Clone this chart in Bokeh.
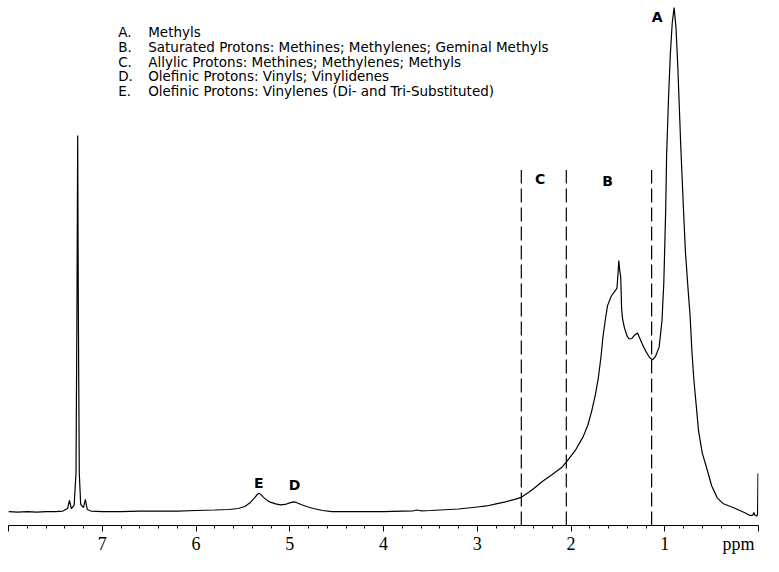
from bokeh.plotting import figure
from bokeh.models import FixedTicker, Range1d, ColumnDataSource
from bokeh.core.properties import value
from bokeh.embed import file_html
from bokeh.resources import INLINE

# ---- spectrum (chemical shift in ppm, relative intensity) ----
ppm = [8.00, 7.90, 7.80, 7.70, 7.60, 7.50, 7.42, 7.37, 7.35, 7.33, 7.30, 7.28, 7.27,
       7.262, 7.255, 7.245, 7.23, 7.20, 7.18, 7.16, 7.12, 7.00, 6.80, 6.60, 6.40,
       6.20, 6.00, 5.80, 5.65, 5.55, 5.48, 5.42, 5.38, 5.35, 5.33, 5.31, 5.28, 5.24,
       5.20, 5.15, 5.10, 5.05, 5.00, 4.96, 4.93, 4.88, 4.82, 4.75, 4.65, 4.55, 4.40,
       4.20, 4.00, 3.80, 3.68, 3.64, 3.60, 3.50, 3.40, 3.30, 3.20, 3.10, 3.00, 2.90,
       2.80, 2.70, 2.60, 2.53, 2.45, 2.38, 2.31, 2.20, 2.10, 2.04, 1.95, 1.87, 1.82,
       1.78, 1.74, 1.71, 1.68, 1.66, 1.63, 1.61, 1.57, 1.53, 1.51, 1.50, 1.49, 1.48,
       1.47, 1.46, 1.45, 1.43, 1.40, 1.38, 1.35, 1.32, 1.29, 1.27, 1.24, 1.20, 1.16,
       1.13, 1.10, 1.06, 1.03, 1.01, 0.99, 0.98, 0.96, 0.94, 0.92, 0.90, 0.88, 0.86,
       0.83, 0.80, 0.78, 0.75, 0.73, 0.71, 0.69, 0.66, 0.64, 0.60, 0.55, 0.50, 0.44,
       0.38, 0.30, 0.27, 0.20, 0.14, 0.09, 0.06, 0.05, 0.04, 0.02, 0.01, 0.005]
intensity = [0.4, 0.3, 0.4, 0.3, 0.4, 0.4, 0.5, 1.0, 2.6, 1.0, 1.6, 8.0, 40.0,
             74.7, 40.0, 8.0, 1.8, 1.2, 2.8, 0.8, 0.5, 0.4, 0.4, 0.5, 0.5,
             0.5, 0.6, 0.7, 0.8, 1.0, 1.4, 2.2, 3.0, 3.7, 4.0, 3.8, 3.2, 2.6,
             2.2, 1.9, 1.7, 1.8, 2.1, 2.3, 2.2, 1.8, 1.4, 1.0, 0.6, 0.4, 0.4,
             0.4, 0.4, 0.5, 0.55, 0.7, 0.55, 0.6, 0.7, 0.8, 0.9, 1.1, 1.3, 1.5,
             1.9, 2.3, 2.8, 3.2, 4.2, 5.2, 6.3, 7.7, 9.1, 10.4, 12.6, 15.2, 17.5,
             20.2, 23.5, 26.6, 31.0, 34.8, 38.8, 41.1, 43.0, 44.0, 44.5, 47.0, 50.0, 48.0,
             46.8, 40.5, 38.5, 36.7, 35.0, 34.5, 34.6, 35.3, 35.7, 34.8, 33.5, 32.0, 30.8,
             30.4, 31.0, 32.9, 38.0, 45.6, 60.0, 70.9, 82.0, 91.0, 97.0, 100.0, 96.0, 88.0,
             73.0, 60.0, 51.9, 44.0, 39.2, 32.0, 26.6, 20.5, 16.4, 12.0, 8.8, 5.5, 3.1,
             2.0, 1.4, 1.2, 0.6, 0.1, -0.4, -0.3, 0.2, -0.3, -0.5, -0.2, 7.9]

# ---- region boundaries (dashed lines), ppm ----
region_bounds = [2.53, 2.05, 1.14]

# ---- region / peak labels ----
peak_labels = ["A", "B", "C", "D", "E"]

# ---- legend ----
legend_letters = ["A.", "B.", "C.", "D.", "E."]
legend_texts = [
    "Methyls",
    "Saturated Protons: Methines; Methylenes; Geminal Methyls",
    "Allylic Protons: Methines; Methylenes; Methyls",
    "Olefinic Protons: Vinyls; Vinylidenes",
    "Olefinic Protons: Vinylenes (Di- and Tri-Substituted)",
]

# ---- axis ticks ----
major_ticks = [0, 1, 2, 3, 4, 5, 6, 7, 8]
tick_text = ["ppm", "1", "2", "3", "4", "5", "6", "7", ""]

Y0, Y1 = -2.36, 101.4

p = figure(width=763, height=556, output_backend="svg",
           toolbar_location=None, x_range=Range1d(8, 0), y_range=Range1d(Y0, Y1),
           min_border_left=8, min_border_right=5, min_border_top=0,
           y_axis_location=None)
p.min_border_bottom = 0
p.grid.visible = False
p.outline_line_color = None
p.background_fill_color = "white"
p.border_fill_color = "white"

src = ColumnDataSource(data=dict(x=ppm, y=intensity))
p.line("x", "y", source=src, line_color="black", line_width=1.2)

# dashed region lines
p.segment(x0=region_bounds, y0=[Y0] * len(region_bounds),
          x1=region_bounds, y1=[67.9] * len(region_bounds),
          line_color="black", line_width=1.2, line_dash="14 5")

# peak labels
lab_x = [1.08, 1.61, 2.33, 4.95, 5.33]
lab_y = [98.1, 65.8, 66.2, 5.7, 6.1]
p.text(x=lab_x, y=lab_y, text=peak_labels, text_font=value("DejaVu Sans"),
       text_font_size="14px", text_font_style="bold", text_align="center",
       text_baseline="middle", text_color="black")

# legend block
ly = [95.1 - i * 2.9 for i in range(len(legend_letters))]
p.text(x=[6.83] * len(legend_letters), y=ly, text=legend_letters,
       text_font=value("DejaVu Sans"), text_font_size="13.5px",
       text_align="left", text_baseline="middle", text_color="black")
p.text(x=[6.51] * len(legend_texts), y=ly, text=legend_texts,
       text_font=value("DejaVu Sans"), text_font_size="13.5px",
       text_align="left", text_baseline="middle", text_color="black")

ax = p.xaxis[0]
minor = [round(i * 0.2, 1) for i in range(41) if i % 5 != 0]
ax.ticker = FixedTicker(ticks=major_ticks, minor_ticks=minor)
overrides = dict(zip(major_ticks, tick_text))
# keep the unit label inside the canvas: pad it on the right with no-break spaces
overrides[0] = tick_text[0] + "\u00a0" * 2
ax.major_label_overrides = overrides
ax.major_label_text_font = "Liberation Serif"
ax.major_label_text_font_size = "18px"
ax.major_label_text_color = "black"
ax.major_label_standoff = 2
ax.major_tick_in = 0
ax.major_tick_out = 6
ax.minor_tick_in = 0
ax.minor_tick_out = 3
ax.axis_line_color = "black"
ax.major_tick_line_color = "black"
ax.minor_tick_line_color = "black"

open("out.html", "w").write(file_html(p, INLINE))
